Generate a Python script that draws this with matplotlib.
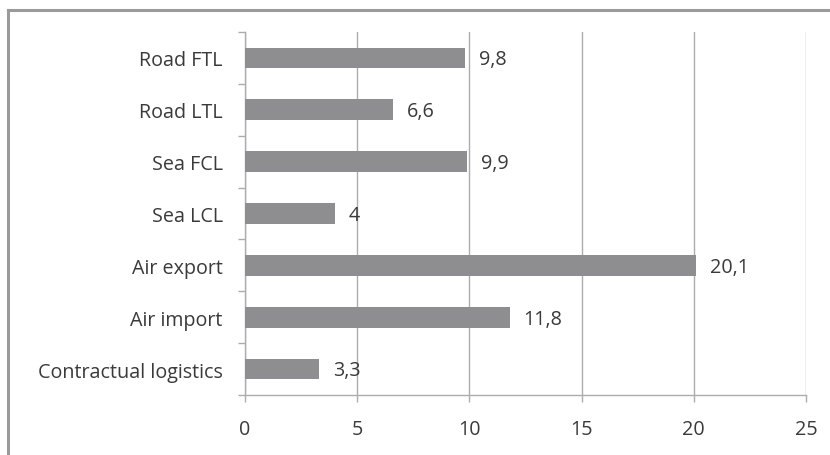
import matplotlib
matplotlib.use("Agg")
import matplotlib.pyplot as plt
from matplotlib.lines import Line2D

categories = ["Road FTL", "Road LTL", "Sea FCL", "Sea LCL",
              "Air export", "Air import", "Contractual logistics"]
values = [9.8, 6.6, 9.9, 4.0, 20.1, 11.8, 3.3]
value_labels = ["9,8", "6,6", "9,9", "4", "20,1", "11,8", "3,3"]
xticks = [0, 5, 10, 15, 20, 25]

plt.rcParams["font.family"] = ["Open Sans", "DejaVu Sans"]
text_color = "#3a3a3a"
axis_color = "#adadad"
bar_color = "#8e8e90"
fs = 14.2

W, H = 830, 456
fig = plt.figure(figsize=(W / 100, H / 100), dpi=100)
fig.patch.set_facecolor("white")

# outer frame (left and top edges)
fig.add_artist(Line2D([8 / W, 8 / W], [0, 1 - 11 / H], transform=fig.transFigure,
                      color="#9a9a9a", lw=2.2))
fig.add_artist(Line2D([8 / W, 1], [1 - 11 / H, 1 - 11 / H], transform=fig.transFigure,
                      color="#9a9a9a", lw=2.2))

left, right, top, bottom = 245, 806, 33, 396
ax = fig.add_axes([left / W, 1 - bottom / H, (right - left) / W, (bottom - top) / H])

ypos = list(range(len(categories)))[::-1]
ax.barh(ypos, values, height=0.4, color=bar_color, zorder=3)

for y, v, lab in zip(ypos, values, value_labels):
    ax.annotate(lab, (v, y), xytext=(10, -1), textcoords="offset points",
                va="center", ha="left", fontsize=fs, color=text_color, zorder=4)

ax.set_xlim(0, 25)
ax.set_ylim(-0.5, len(categories) - 0.5)
ax.set_xticks(xticks)
ax.set_xticklabels([str(t) for t in xticks])
ax.set_yticks(ypos)
ax.set_yticklabels(categories)
ax.set_yticks([i - 0.5 for i in range(len(categories) + 1)], minor=True)

ax.xaxis.grid(True, color=axis_color, lw=1.0, zorder=0)
ax.yaxis.grid(False)

for s in ["top", "right"]:
    ax.spines[s].set_visible(False)
for s in ["left", "bottom"]:
    ax.spines[s].set_color(axis_color)
    ax.spines[s].set_linewidth(1.0)

ax.tick_params(axis="y", which="major", length=0, pad=16, labelsize=fs,
               labelcolor=text_color)
ax.tick_params(axis="y", which="minor", length=5, color=axis_color, width=1.0)
ax.tick_params(axis="x", which="major", length=5, color=axis_color, width=1.0,
               pad=12, labelsize=fs, labelcolor=text_color)

fig.savefig("out.png", dpi=100, facecolor="white")
